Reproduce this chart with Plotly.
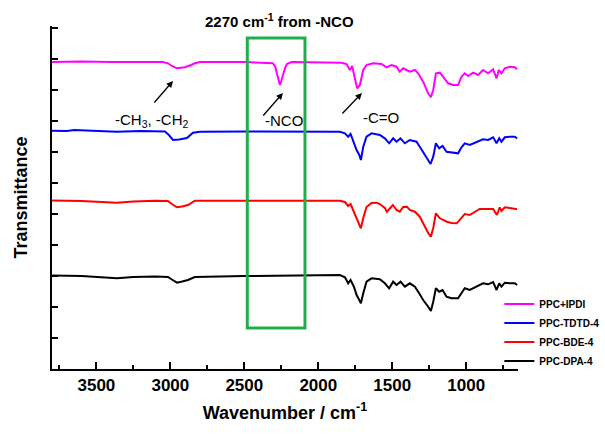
import plotly.graph_objects as go

# ---------------- data (wavenumber in cm-1, transmittance in arbitrary offset units) ----------------
ipdi_wn = [3800, 3600, 3400, 3200, 3050, 3016, 2990, 2955, 2930, 2901, 2860, 2834, 2800, 2500, 2307, 2290,
           2280, 2268, 2259, 2250, 2239, 2225, 2212, 2180, 1843, 1809, 1786, 1771, 1753, 1737, 1719, 1696,
           1674, 1629, 1572, 1539, 1505, 1471, 1449, 1426, 1381, 1347, 1325, 1291, 1257, 1239, 1223, 1205,
           1178, 1151, 1122, 1089, 1055, 1032, 1010, 987, 953, 920, 886, 852, 818, 795, 780, 762, 739, 705,
           672, 656]
ipdi_t = [307, 307.5, 307, 307, 307, 305.7, 303, 300.7, 301, 301.7, 304, 305.7, 307, 307, 305.7, 302,
          295.7, 287, 284, 288, 294, 301, 305, 307, 306.3, 305, 299, 303, 290.7, 280.7, 284, 299,
          304, 305.7, 305, 301.7, 304, 302.3, 297.3, 300.7, 297.3, 299, 295.7, 287.3, 275.7, 271.7, 279, 295.7,
          296.3, 290.7, 285.7, 284, 284, 292.3, 295.7, 293, 296.3, 294, 299, 295.7, 299.7, 290.7, 299, 295.7, 300.7, 302.3,
          301.7, 299.7]

tdtd_wn = [3800, 3700, 3650, 3500, 3361, 3200, 3036, 3010, 2982, 2940, 2888, 2847, 2800, 2500, 2000, 1854,
           1820, 1798, 1782, 1759, 1741, 1723, 1712, 1696, 1674, 1640, 1584, 1550, 1521, 1494, 1471, 1444,
           1415, 1381, 1336, 1314, 1286, 1257, 1241, 1223, 1205, 1183, 1160, 1133, 1100, 1055, 1032, 1010,
           976, 930, 886, 852, 818, 795, 777, 762, 739, 705, 672, 656]
tdtd_t = [238.3, 238, 239, 238, 237.3, 238, 237.5, 234, 229, 229.5, 231, 236.3, 237.3, 237.5, 237.5, 237.3,
          235.7, 232.3, 235, 225.7, 219, 214, 209, 222.3, 232.3, 235.7, 234, 230.7, 225.7, 230.7, 227.3, 230.7,
          225.7, 229, 227.3, 222.3, 215.7, 209, 205, 212.3, 225.7, 220.7, 223, 217.3, 216.3, 215.7, 221.7, 225.7,
          224, 227.3, 229.7, 229, 231.7, 225.7, 230.7, 227.3, 231.7, 232.3, 232.3, 230.7]

bde_wn = [3800, 3600, 3361, 3250, 3100, 3016, 2990, 2955, 2920, 2881, 2834, 2500, 1854,
          1820, 1798, 1782, 1759, 1741, 1723, 1712, 1696, 1674, 1640, 1604, 1584, 1550, 1536, 1521, 1496,
          1471, 1449, 1426, 1401, 1381, 1347, 1314, 1286, 1257, 1239, 1223, 1205, 1178, 1131, 1100, 1064,
          1030, 1010, 976, 930, 909, 886, 841, 818, 793, 773, 762, 739, 705, 672, 656]
bde_t = [168.5, 168, 166.3, 167.5, 168.3, 168, 165, 161.7, 162.5, 164, 168.3, 168.5, 168.3,
         167, 163, 165, 157, 149, 144, 140.7, 151, 162, 166, 166.3, 165, 161, 157.3, 160, 164,
         159, 157.3, 162, 162.3, 159, 157.3, 152.3, 144, 136, 132.3, 141, 155.7, 150.7, 147.3, 146, 145.7,
         152.3, 155, 154, 158, 160, 160, 159.7, 160, 154, 161.7, 158, 161.7, 161, 160, 159.7]

dpa_wn = [3800, 3600, 3361, 3250, 3100, 3016, 2990, 2955, 2920, 2881, 2834, 2700, 2500, 1854,
          1820, 1798, 1782, 1759, 1741, 1723, 1712, 1696, 1674, 1640, 1584, 1550, 1521, 1494, 1471, 1444,
          1415, 1381, 1347, 1318, 1291, 1257, 1239, 1223, 1205, 1183, 1160, 1133, 1100, 1055, 1032, 1010,
          976, 930, 886, 852, 818, 795, 777, 762, 739, 705, 672, 656]
dpa_t = [93.5, 93, 90.7, 92, 92.5, 92, 89.5, 86.3, 87.5, 89, 92, 92.5, 93, 94,
         91.7, 85.7, 89, 82.3, 74, 69, 65.7, 75.7, 87.3, 90.7, 89.7, 85.7, 80.7, 87.3, 84, 87.3,
         82.3, 85.7, 82.3, 75.7, 69, 62.3, 58, 67.3, 80.7, 77.3, 79, 72.3, 70.7, 70.7, 75.7, 80.7,
         79, 82.3, 85.7, 84.7, 87, 79, 85.7, 82.3, 86.3, 85.7, 85.7, 84]

series_names = ["PPC+IPDI", "PPC-TDTD-4", "PPC-BDE-4", "PPC-DPA-4"]
series_colors = ["#ff00ff", "#0000ff", "#ff0000", "#000000"]

# highlighted band (cm-1)
band_wn = [2480, 2090]
band_t = [41, 331]

fig = go.Figure()
for name, color, wn, t in zip(series_names, series_colors,
                              [ipdi_wn, tdtd_wn, bde_wn, dpa_wn],
                              [ipdi_t, tdtd_t, bde_t, dpa_t]):
    fig.add_trace(go.Scatter(x=wn, y=t, mode="lines", name=name,
                             line=dict(color=color, width=2)))

fig.add_shape(type="rect", x0=band_wn[0], x1=band_wn[1], y0=band_t[0], y1=band_t[1],
              xref="x", yref="y", line=dict(color="#1fae4b", width=3), fillcolor="rgba(0,0,0,0)")

arrow_common = dict(showarrow=True, arrowhead=2, arrowsize=1, arrowwidth=1.3, arrowcolor="black",
                    text="", xref="x", yref="y", axref="pixel", ayref="pixel")
fig.add_annotation(x=2982, y=288, ax=-20, ay=23, **arrow_common)
fig.add_annotation(x=2239, y=276, ax=-21, ay=24, **arrow_common)
fig.add_annotation(x=1705, y=276, ax=-21, ay=22, **arrow_common)

lab_font = dict(family="Liberation Sans, Arial", size=15, color="black")
fig.add_annotation(x=3126, y=249, text="-CH<sub>3</sub>, -CH<sub>2</sub>", showarrow=False, font=lab_font)
fig.add_annotation(x=2232, y=249, text="-NCO", showarrow=False, font=lab_font)
fig.add_annotation(x=1578, y=252, text="-C=O", showarrow=False, font=lab_font)

fig.add_annotation(x=2265, y=1.017, xref="x", yref="paper", yanchor="middle",
                   text="<b>2270 cm<sup>-1</sup> from -NCO</b>", showarrow=False,
                   font=dict(family="Liberation Sans, Arial", size=15, color="black"))

axis_font = dict(family="Liberation Sans, Arial", size=17, color="black", weight="bold")
fig.update_layout(
    width=605, height=434,
    margin=dict(l=52, r=87, t=26, b=65, autoexpand=False),
    paper_bgcolor="white", plot_bgcolor="white",
    showlegend=True,
    legend=dict(x=0.96, y=0.232, xanchor="left", yanchor="top", bgcolor="rgba(0,0,0,0)",
                font=dict(family="Liberation Sans, Arial", size=10, color="black", weight="bold"),
                itemwidth=30, tracegroupgap=0),
    xaxis=dict(range=[3800, 650], showgrid=False, zeroline=False, showline=True, linecolor="black",
               linewidth=2, ticks="inside", ticklen=7, tickwidth=2, tickcolor="black",
               tickmode="linear", tick0=1000, dtick=500, tickfont=axis_font,
               minor=dict(ticks="inside", ticklen=4, tickwidth=2, tickcolor="black", dtick=250, tick0=750),
               title=dict(text="Wavenumber / cm<sup>-1</sup>", font=dict(family="Liberation Sans, Arial", size=18,
                                                                          color="black", weight="bold"),
                          standoff=12)),
    yaxis=dict(range=[0, 343], showgrid=False, zeroline=False, showline=True, linecolor="black",
               linewidth=2, ticks="inside", ticklen=6, tickwidth=2, tickcolor="black",
               tickmode="linear", tick0=0, dtick=31, showticklabels=False,
               title=dict(text="Transmittance", font=dict(family="Liberation Sans, Arial", size=18,
                                                          color="black", weight="bold"),
                          standoff=18)),
)

fig.write_html("out.html")
